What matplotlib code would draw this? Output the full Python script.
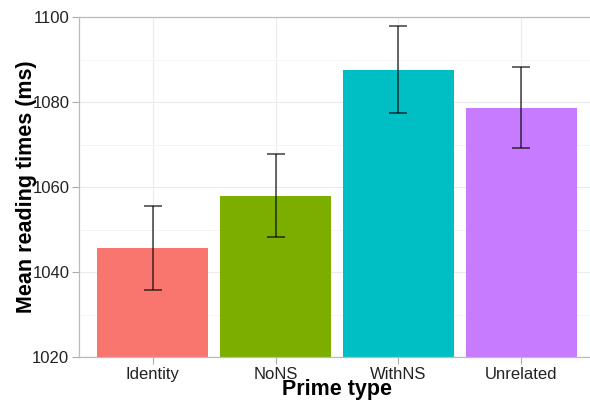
import matplotlib
matplotlib.use("Agg")
import matplotlib.pyplot as plt
from matplotlib.ticker import MultipleLocator

categories = ["Identity", "NoNS", "WithNS", "Unrelated"]
means = [1045.6, 1058.0, 1087.6, 1078.7]
errors = [9.9, 9.8, 10.2, 9.6]
colors = ["#F8766D", "#7CAE00", "#00BFC4", "#C77CFF"]
yticks = [1020, 1040, 1060, 1080, 1100]

plt.rcParams['font.family'] = ['Liberation Sans', 'DejaVu Sans']

fig = plt.figure(figsize=(5.9, 4.0), dpi=100)
ax = fig.add_axes([79/590, 43/400, (595-79)/590, 340/400])

x = list(range(1, len(categories) + 1))
ax.bar(x, [m - 1020 for m in means], bottom=1020, width=0.9, color=colors, zorder=2)
ax.errorbar(x, means, yerr=errors, fmt='none', ecolor='black', alpha=0.75,
            elinewidth=1.1, capsize=6.5, capthick=1.1, zorder=3)

ax.set_xlim(0.4, 4.6)
ax.set_ylim(1020, 1100)
ax.set_xticks(x)
ax.set_xticklabels(categories, fontsize=12, color='#222222')
ax.set_yticks(yticks)
ax.set_yticklabels([str(v) for v in yticks], fontsize=12, color='#222222')
ax.yaxis.set_minor_locator(MultipleLocator(10))
ax.tick_params(axis='y', which='minor', length=0)
ax.tick_params(axis='both', which='major', length=5, color='#AAAAAA', width=0.8, pad=2)

ax.grid(True, which='major', color='#EBEBEB', linewidth=0.8, zorder=0)
ax.grid(True, which='minor', axis='y', color='#F4F4F4', linewidth=0.6, zorder=0)
ax.set_axisbelow(True)

for side in ['left', 'top', 'bottom', 'right']:
    ax.spines[side].set_color('#BBBBBB')
    ax.spines[side].set_linewidth(0.9)

ax.set_xlabel("Prime type", fontsize=15.5, fontweight='bold')
ax.set_ylabel("Mean reading times (ms)", fontsize=15.5, fontweight='bold')
ax.xaxis.set_label_coords(0.5, (357 - 379) / 340)
ax.yaxis.set_label_coords((37 - 79) / 516, 0.5)

fig.savefig("out.png", dpi=100)
